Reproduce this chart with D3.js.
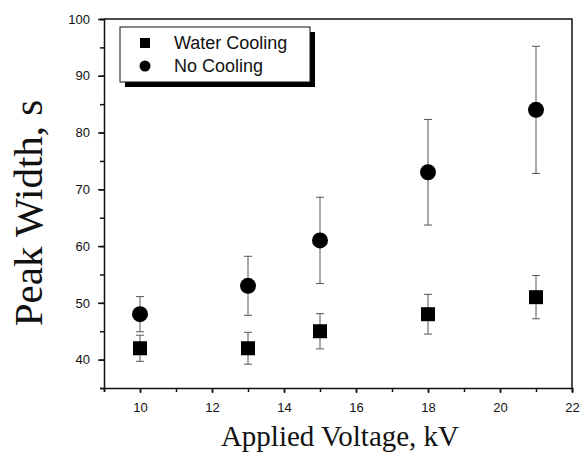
<!DOCTYPE html>
<html>
<head>
<meta charset="utf-8">
<script src="https://cdn.jsdelivr.net/npm/d3@7"></script>
<style>
	body { margin: 0; background: #fff; }
	.tick text { font-family: 'Liberation Sans', Arial, sans-serif; font-size: 13px; fill: #111; }
</style>
</head>
<body>
<div id="chart"></div>
<script>
const voltage = [10, 13, 15, 18, 21];
const waterCooling = [42, 42, 45, 48, 51];
const waterErr = [2.3, 2.8, 3.1, 3.5, 3.8];
const noCooling = [48, 53, 61, 73, 84];
const noErr = [3.1, 5.2, 7.6, 9.3, 11.2];
const xTicks = [10, 12, 14, 16, 18, 20, 22];
const yTicks = [40, 50, 60, 70, 80, 90, 100];

(() => {
	const width = 580;
	const height = 455;
	const margin = { top: 19, right: 8, bottom: 67, left: 104 };

	const svg = d3.select('#chart').append('svg')
		.attr('width', width)
		.attr('height', height);

	const x = d3.scaleLinear()
		.domain([9, 22])
		.range([margin.left, width - margin.right]);
	const y = d3.scaleLinear()
		.domain([35, 100])
		.range([height - margin.bottom, margin.top]);

	const ink = '#111';

	// frame top + right
	svg.append('path')
		.attr('d', `M${x(9)},${y(100)}H${x(22)}V${y(35)}`)
		.attr('fill', 'none')
		.attr('stroke', ink)
		.attr('stroke-width', 1.5);

	// minor ticks
	svg.append('g')
		.attr('transform', `translate(0,${y(35)})`)
		.call(d3.axisBottom(x).tickValues(d3.range(9, 23, 1)).tickSize(4).tickFormat(''))
		.call(g => g.selectAll('line,path').attr('stroke', ink).attr('stroke-width', 1.5));
	svg.append('g')
		.attr('transform', `translate(${x(9)},0)`)
		.call(d3.axisLeft(y).tickValues(d3.range(35, 101, 5)).tickSize(4).tickFormat(''))
		.call(g => g.selectAll('line,path').attr('stroke', ink).attr('stroke-width', 1.5));

	// major ticks + labels
	svg.append('g')
		.attr('transform', `translate(0,${y(35)})`)
		.call(d3.axisBottom(x).tickValues(xTicks).tickSize(5).tickPadding(10).tickSizeOuter(0))
		.call(g => g.select('.domain').remove())
		.call(g => g.selectAll('line').attr('stroke', ink).attr('stroke-width', 1.5));
	svg.append('g')
		.attr('transform', `translate(${x(9)},0)`)
		.call(d3.axisLeft(y).tickValues(yTicks).tickSize(6).tickPadding(8).tickSizeOuter(0))
		.call(g => g.select('.domain').remove())
		.call(g => g.selectAll('line').attr('stroke', ink).attr('stroke-width', 1.5));

	// axis titles
	svg.append('text')
		.attr('x', (x(9) + x(22)) / 2 + 2)
		.attr('y', 446)
		.attr('text-anchor', 'middle')
		.style('font-family', "'Liberation Serif', 'Times New Roman', serif")
		.style('font-size', '29px')
		.style('fill', ink)
		.text('Applied Voltage, kV');
	svg.append('text')
		.attr('transform', 'translate(42,213) rotate(-90)')
		.attr('text-anchor', 'middle')
		.style('font-family', "'Liberation Serif', 'Times New Roman', serif")
		.style('font-size', '41px')
		.style('fill', ink)
		.text('Peak Width, s');

	const series = [
		{ name: 'Water Cooling', vals: waterCooling, err: waterErr, shape: 'square' },
		{ name: 'No Cooling', vals: noCooling, err: noErr, shape: 'circle' },
	];

	series.forEach(s => {
		const g = svg.append('g');
		const pts = voltage.map((v, i) => ({ v, val: s.vals[i], e: s.err[i] }));
		// error bars
		const eb = g.selectAll('.eb')
			.data(pts)
			.enter()
			.append('path')
			.attr('d', d => {
				const cx = x(d.v);
				const t = y(d.val + d.e);
				const b = y(d.val - d.e);
				return `M${cx - 4},${t}H${cx + 4}M${cx},${t}V${b}M${cx - 4},${b}H${cx + 4}`;
			})
			.attr('fill', 'none')
			.attr('stroke', '#555')
			.attr('stroke-width', 1);
		if (s.shape === 'square') {
			g.selectAll('.m')
				.data(pts)
				.enter()
				.append('rect')
				.attr('x', d => x(d.v) - 7)
				.attr('y', d => y(d.val) - 7)
				.attr('width', 14)
				.attr('height', 14)
				.attr('fill', '#000');
		} else {
			g.selectAll('.m')
				.data(pts)
				.enter()
				.append('circle')
				.attr('cx', d => x(d.v))
				.attr('cy', d => y(d.val))
				.attr('r', 8)
				.attr('fill', '#000');
		}
	});

	// legend with drop shadow
	const lg = svg.append('g');
	lg.append('rect')
		.attr('x', 125).attr('y', 32)
		.attr('width', 190).attr('height', 55)
		.attr('fill', '#000');
	lg.append('rect')
		.attr('x', 120).attr('y', 27)
		.attr('width', 190).attr('height', 55)
		.attr('fill', '#fff')
		.attr('stroke', ink)
		.attr('stroke-width', 1);
	lg.append('rect')
		.attr('x', 140).attr('y', 38)
		.attr('width', 10).attr('height', 10)
		.attr('fill', '#000');
	lg.append('circle')
		.attr('cx', 145).attr('cy', 66)
		.attr('r', 5.5)
		.attr('fill', '#000');
	lg.selectAll('.lt')
		.data(series)
		.enter()
		.append('text')
		.attr('x', 174)
		.attr('y', (d, i) => 49 + i * 23)
		.style('font-family', "'Liberation Sans', Arial, sans-serif")
		.style('font-size', '18px')
		.style('fill', ink)
		.text(d => d.name);
})();
</script>
</body>
</html>
